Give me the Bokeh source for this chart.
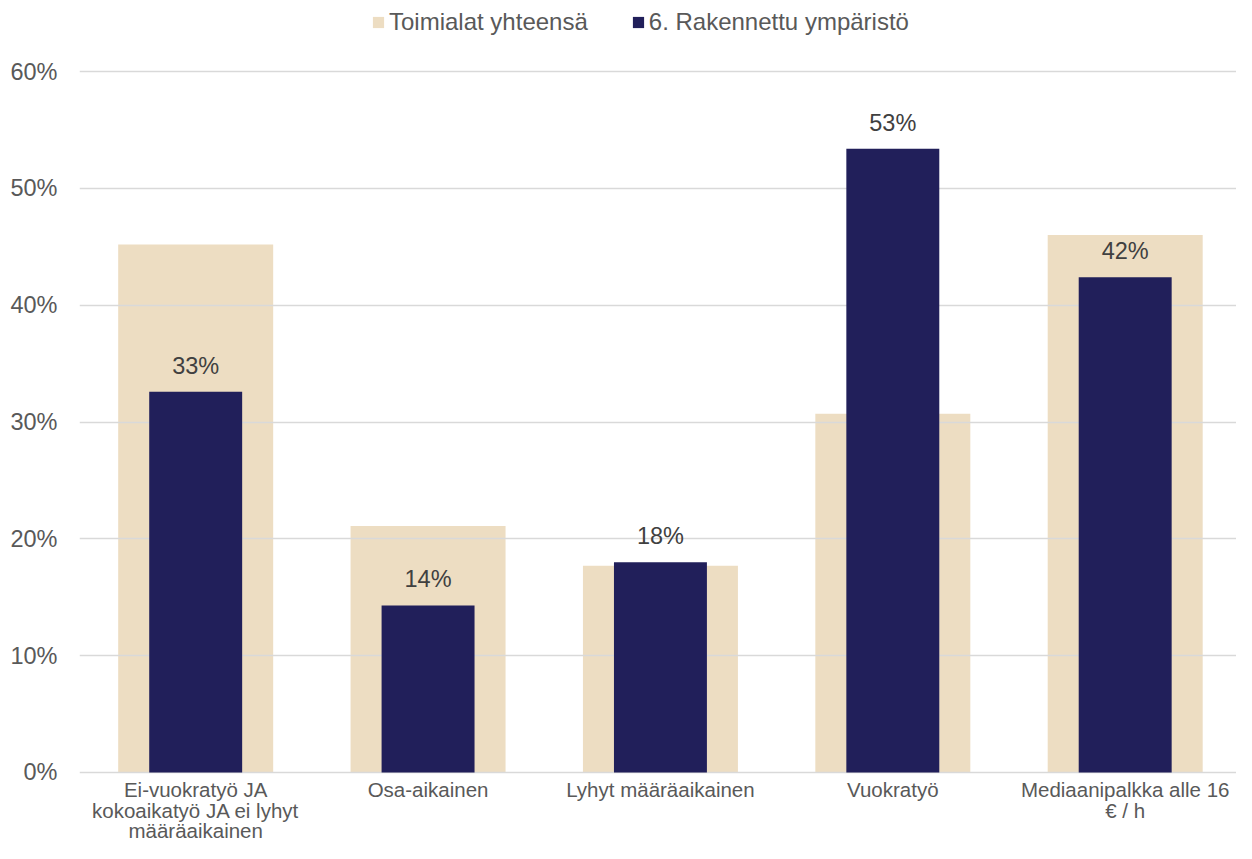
from bokeh.plotting import figure
from bokeh.models import (ColumnDataSource, Range1d, FixedTicker, Legend, LegendItem,
                          LabelSet, NumeralTickFormatter)
from bokeh.core.properties import value
from bokeh.embed import file_html
from bokeh.resources import INLINE

categories = ["Ei-vuokratyö JA\nkokoaikatyö JA ei lyhyt\nmääräaikainen",
              "Osa-aikainen",
              "Lyhyt määräaikainen",
              "Vuokratyö",
              "Mediaanipalkka alle 16\n€ / h"]
total_values = [0.452, 0.211, 0.177, 0.307, 0.460]
sector_values = [0.326, 0.143, 0.180, 0.534, 0.424]
series_names = ["Toimialat yhteensä", "6. Rakennettu ympäristö"]
y_ticks = [0.0, 0.1, 0.2, 0.3, 0.4, 0.5, 0.6]

FONT = "Liberation Sans"
BEIGE = "#EDDDC2"
NAVY = "#211F5A"
GRID = "#D9D9D9"

xs = [i + 0.5 for i in range(len(categories))]
src = ColumnDataSource(dict(
    x=xs, total=total_values, sector=sector_values,
    label=[f"{round(v * 100)}%" for v in sector_values],
))

# one row per line of each category label, so every line is centred on its bar
FIRST_BASELINE = 25
LINE_STEP = 20.5
line_x, line_text, line_off = [], [], []
for x, cat in zip(xs, categories):
    for i, part in enumerate(cat.split("\n")):
        line_x.append(x)
        line_text.append(part)
        line_off.append(-(FIRST_BASELINE + i * LINE_STEP))
cat_src = ColumnDataSource(dict(x=line_x, y=[0.0] * len(line_x), text=line_text, off=line_off))

# frame fills the figure vertically so that legend and category labels stay inside it
p = figure(width=1236, height=843, output_backend="svg", toolbar_location=None,
           x_range=Range1d(0, 4.979), y_range=Range1d(-0.0608, 0.6608),
           min_border_left=79, min_border_right=0, min_border_top=0, min_border_bottom=0)
p.outline_line_color = None
p.background_fill_color = "white"
p.border_fill_color = "white"
p.xaxis.visible = False

r_total = p.vbar(x="x", top="total", width=0.667, source=src, fill_color=BEIGE, line_color=None)
p.hspan(y=y_ticks, line_color=GRID, line_width=1.5)
r_sector = p.vbar(x="x", top="sector", width=0.40, source=src, fill_color=NAVY, line_color=None)

labels = LabelSet(x="x", y="sector", text="label", source=src, text_align="center",
                  text_baseline="bottom", y_offset=13, text_font=value(FONT),
                  text_font_size="23.5px", text_color="#404040")
p.add_layout(labels)

cat_labels = LabelSet(x="x", y="y", text="text", source=cat_src, text_align="center",
                      text_baseline="alphabetic", y_offset="off", text_font=value(FONT),
                      text_font_size="20.5px", text_color="#595959")
p.add_layout(cat_labels)

p.xgrid.grid_line_color = None
p.ygrid.grid_line_color = None

p.yaxis.ticker = FixedTicker(ticks=y_ticks)
p.yaxis.formatter = NumeralTickFormatter(format="0%")
p.yaxis.axis_line_color = None
p.yaxis.major_tick_line_color = None
p.yaxis.minor_tick_line_color = None
p.yaxis.major_tick_out = 0
p.yaxis.major_tick_in = 0
p.yaxis.major_label_text_font = FONT
p.yaxis.major_label_text_font_size = "23.5px"
p.yaxis.major_label_text_color = "#595959"
p.yaxis.major_label_standoff = 22

legend = Legend(items=[LegendItem(label=series_names[0], renderers=[r_total]),
                       LegendItem(label=series_names[1], renderers=[r_sector])],
                orientation="horizontal", location=(292, 807),
                glyph_width=14, glyph_height=14, label_standoff=4, spacing=43,
                label_text_font=FONT, label_text_font_size="24px",
                label_text_color="#595959", border_line_color=None,
                background_fill_alpha=0, padding=0, margin=0)
p.add_layout(legend)

open("out.html", "w").write(file_html(p, INLINE))
